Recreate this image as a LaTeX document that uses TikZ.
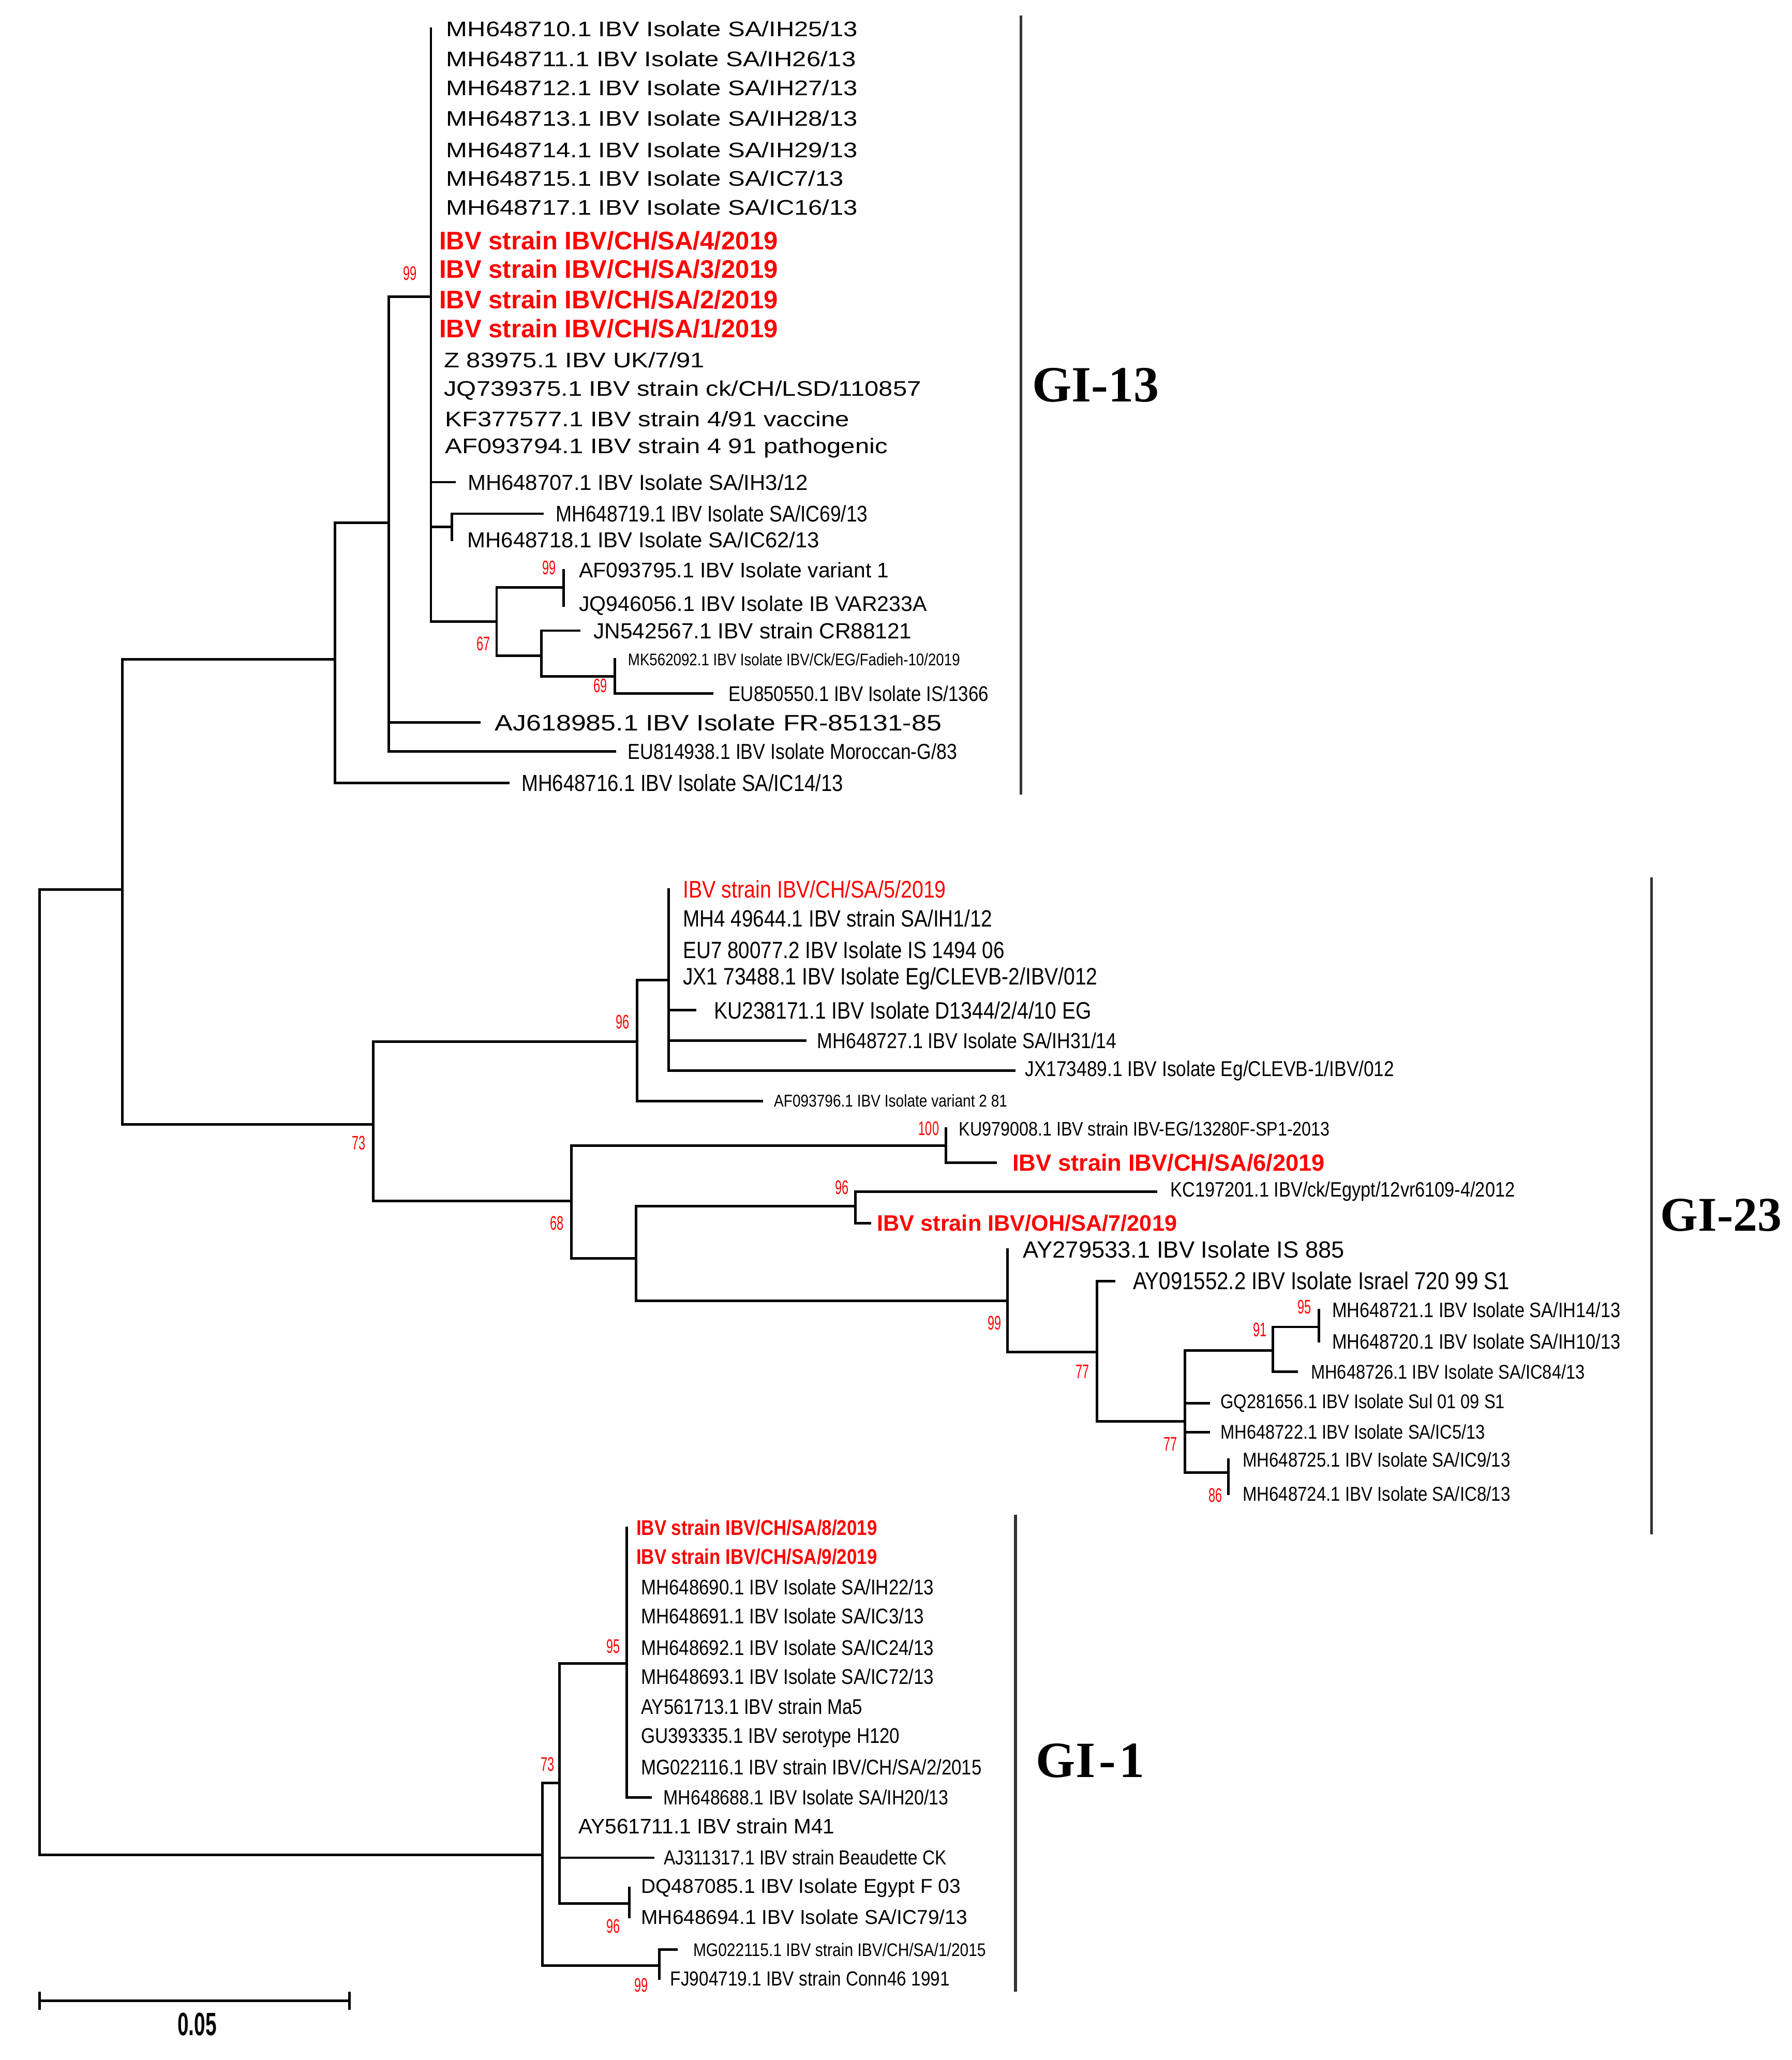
\documentclass[tikz,border=0pt]{standalone}
\usepackage{fontspec}
\setmainfont{Liberation Sans}
\newfontfamily\widefont[FakeStretch=1.2]{Liberation Sans}
\newfontfamily\narrowfont[FakeStretch=0.85]{Liberation Sans}
\newfontfamily\bootfont[FakeStretch=0.62]{Liberation Sans}
\newfontfamily\cladefont{Liberation Serif}
\usetikzlibrary{positioning}
\definecolor{ibvred}{RGB}{255,0,0}

\begin{document}
\begin{tikzpicture}[x=0.02cm,y=-0.02cm,node distance=5.5pt,
    br/.style={line width=1.1pt,line cap=rect},
    lab/.style={font=\fontsize{#1}{#1}\selectfont,inner sep=0pt},
    wlab/.style={font=\widefont\fontsize{#1}{#1}\selectfont,inner sep=0pt},
    nlab/.style={font=\narrowfont\fontsize{#1}{#1}\selectfont,inner sep=0pt},
    newlab/.style={font=\bfseries\fontsize{#1}{#1}\selectfont,text=ibvred,inner sep=0pt},
    newnlab/.style={font=\narrowfont\bfseries\fontsize{#1}{#1}\selectfont,text=ibvred,inner sep=0pt},
    boot/.style={font=\bootfont\fontsize{8.5}{8.5}\selectfont,text=ibvred,inner sep=0pt},
    clade/.style={font=\cladefont\bfseries\fontsize{#1}{#1}\selectfont,inner sep=0pt},
    bar/.style={line width=1.2pt,black!80}]
    \useasboundingbox (0,0) rectangle (1364,1568);

    % internal nodes
    \coordinate (r0) at (30,1045);
    \coordinate (nA) at (93,677);
    \coordinate (nB) at (255,502);
    \coordinate (nC) at (296,398);
    \coordinate (nD) at (328,226);
    \coordinate (nE) at (344,401);
    \coordinate (nF) at (378,473);
    \coordinate (nF1) at (429,447);
    \coordinate (nF2) at (412,499);
    \coordinate (nF3) at (468,515);
    \coordinate (nG) at (284,856);
    \coordinate (nH) at (485,793);
    \coordinate (nI) at (509,746);
    \coordinate (nK) at (435,914);
    \coordinate (nL) at (720,872);
    \coordinate (nM) at (484,958);
    \coordinate (nN) at (651,918);
    \coordinate (nO) at (767,990);
    \coordinate (nP) at (835,1029);
    \coordinate (nQ) at (902,1082);
    \coordinate (nR) at (969,1028);
    \coordinate (nS) at (1004,1010);
    \coordinate (nT) at (935,1121);
    \coordinate (nU) at (413,1412);
    \coordinate (nV) at (426,1357);
    \coordinate (nX) at (477,1266);
    \coordinate (nY) at (479,1449);
    \coordinate (nW) at (502,1496);

    % GI-13
    \foreach \i/\y in {1/22,2/45,3/67,4/90,5/114,6/136,7/158,8/183,9/205,10/228,11/250,12/274,13/297,14/319,15/341}
        \coordinate (a\i) at (328,\y);
    \coordinate (a16) at (346,367);
    \coordinate (a17) at (413,391);
    \coordinate (a18) at (344,411);
    \coordinate (a19) at (429,434);
    \coordinate (a20) at (429,461);
    \coordinate (a21) at (441,480);
    \coordinate (a22) at (468,502);
    \coordinate (a23) at (542,528);
    \coordinate (a24) at (365,550);
    \coordinate (a25) at (468,572);
    \coordinate (a26) at (387,596);

    \node[wlab=9.15,right=6.5pt of a1] (t1) {MH648710.1 IBV Isolate SA/IH25/13};
    \node[wlab=9.15,right=6.5pt of a2] (t2) {MH648711.1 IBV Isolate SA/IH26/13};
    \node[wlab=9.15,right=6.5pt of a3] (t3) {MH648712.1 IBV Isolate SA/IH27/13};
    \node[wlab=9.15,right=6.5pt of a4] (t4) {MH648713.1 IBV Isolate SA/IH28/13};
    \node[wlab=9.15,right=6.5pt of a5] (t5) {MH648714.1 IBV Isolate SA/IH29/13};
    \node[wlab=9.15,right=6.5pt of a6] (t6) {MH648715.1 IBV Isolate SA/IC7/13};
    \node[wlab=9.15,right=6.5pt of a7] (t7) {MH648717.1 IBV Isolate SA/IC16/13};
    \node[newlab=11,right=3.4pt of a8] (t8) {IBV strain IBV/CH/SA/4/2019};
    \node[newlab=11,right=3.4pt of a9] (t9) {IBV strain IBV/CH/SA/3/2019};
    \node[newlab=11,right=3.4pt of a10] (t10) {IBV strain IBV/CH/SA/2/2019};
    \node[newlab=11,right=3.4pt of a11] (t11) {IBV strain IBV/CH/SA/1/2019};
    \node[wlab=9.15,right=5.5pt of a12] (t12) {Z 83975.1 IBV UK/7/91};
    \node[wlab=9.15,right=5.5pt of a13] (t13) {JQ739375.1 IBV strain ck/CH/LSD/110857};
    \node[wlab=9.15,right=6pt of a14] (t14) {KF377577.1 IBV strain 4/91 vaccine};
    \node[wlab=9.15,right=6pt of a15] (t15) {AF093794.1 IBV strain 4 91 pathogenic};
    \node[lab=9.4,right=of a16] (t16) {MH648707.1 IBV Isolate SA/IH3/12};
    \node[nlab=9.8,right=of a17] (t17) {MH648719.1 IBV Isolate SA/IC69/13};
    \node[lab=9.4,right=6.5pt of a18] (t18) {MH648718.1 IBV Isolate SA/IC62/13};
    \node[lab=9.15,right=6.5pt of a19] (t19) {AF093795.1 IBV Isolate variant 1};
    \node[lab=9.2,right=6.5pt of a20] (t20) {JQ946056.1 IBV Isolate IB VAR233A};
    \node[lab=9.5,right=6pt of a21] (t21) {JN542567.1 IBV strain CR88121};
    \node[nlab=7.3,right=of a22] (t22) {MK562092.1 IBV Isolate IBV/Ck/EG/Fadieh-10/2019};
    \node[nlab=9.2,right=7pt of a23] (t23) {EU850550.1 IBV Isolate IS/1366};
    \node[wlab=9.7,right=6.5pt of a24] (t24) {AJ618985.1 IBV Isolate FR-85131-85};
    \node[nlab=9.4,right=of a25] (t25) {EU814938.1 IBV Isolate Moroccan-G/83};
    \node[nlab=10.1,right=of a26] (t26) {MH648716.1 IBV Isolate SA/IC14/13};

    % GI-23
    \foreach \i/\y in {1/677,2/699,3/723,4/745}
        \coordinate (b\i) at (509,\y);
    \coordinate (b5) at (529,769);
    \coordinate (b6) at (613,792);
    \coordinate (b7) at (772,815);
    \coordinate (b8) at (580,838);
    \coordinate (b9) at (720,859);
    \coordinate (b10) at (758,885);
    \coordinate (b11) at (880,907);
    \coordinate (b12) at (662,931);
    \coordinate (b13) at (767,951);
    \coordinate (b14) at (848,975);
    \coordinate (b15) at (1004,997);
    \coordinate (b16) at (1004,1021);
    \coordinate (b17) at (987,1044);
    \coordinate (b18) at (920,1068);
    \coordinate (b19) at (920,1090);
    \coordinate (b20) at (935,1111);
    \coordinate (b21) at (935,1137);

    \node[nlab=10.4,text=ibvred,right=6pt of b1] (u1) {IBV strain IBV/CH/SA/5/2019};
    \node[nlab=10.2,right=6pt of b2] (u2) {MH4 49644.1 IBV strain SA/IH1/12};
    \node[nlab=10.2,right=6pt of b3] (u3) {EU7 80077.2 IBV Isolate IS 1494 06};
    \node[nlab=10.3,right=6pt of b4] (u4) {JX1 73488.1 IBV Isolate Eg/CLEVB-2/IBV/012};
    \node[nlab=10.3,right=8pt of b5] (u5) {KU238171.1 IBV Isolate D1344/2/4/10 EG};
    \node[nlab=9.4,right=5pt of b6] (u6) {MH648727.1 IBV Isolate SA/IH31/14};
    \node[nlab=9.3,right=4.5pt of b7] (u7) {JX173489.1 IBV Isolate Eg/CLEVB-1/IBV/012};
    \node[nlab=7.4,right=5pt of b8] (u8) {AF093796.1 IBV Isolate variant 2 81};
    \node[nlab=8.5,right=of b9] (u9) {KU979008.1 IBV strain IBV-EG/13280F-SP1-2013};
    \node[newlab=10.15,right=7pt of b10] (u10) {IBV strain IBV/CH/SA/6/2019};
    \node[nlab=9.05,right=6pt of b11] (u11) {KC197201.1 IBV/ck/Egypt/12vr6109-4/2012};
    \node[newlab=9.7,right=3pt of b12] (u12) {IBV strain IBV/OH/SA/7/2019};
    \node[lab=10.15,right=6.5pt of b13] (u13) {AY279533.1 IBV Isolate IS 885};
    \node[nlab=10.6,right=8pt of b14] (u14) {AY091552.2 IBV Isolate Israel 720 99 S1};
    \node[nlab=9.05,right=of b15] (u15) {MH648721.1 IBV Isolate SA/IH14/13};
    \node[nlab=9.05,right=of b16] (u16) {MH648720.1 IBV Isolate SA/IH10/13};
    \node[nlab=8.6,right=6pt of b17] (u17) {MH648726.1 IBV Isolate SA/IC84/13};
    \node[nlab=8.6,right=5pt of b18] (u18) {GQ281656.1 IBV Isolate Sul 01 09 S1};
    \node[nlab=8.6,right=5pt of b19] (u19) {MH648722.1 IBV Isolate SA/IC5/13};
    \node[nlab=8.7,right=6pt of b20] (u20) {MH648725.1 IBV Isolate SA/IC9/13};
    \node[nlab=8.7,right=6pt of b21] (u21) {MH648724.1 IBV Isolate SA/IC8/13};

    % GI-1
    \foreach \i/\y in {1/1163,2/1185,3/1208,4/1230,5/1254,6/1276,7/1299,8/1323,9/1345}
        \coordinate (c\i) at (477,\y);
    \coordinate (c10) at (495,1368);
    \coordinate (c11) at (426,1390);
    \coordinate (c12) at (497,1414);
    \coordinate (c13) at (479,1437);
    \coordinate (c14) at (479,1459);
    \coordinate (c15) at (515,1484);
    \coordinate (c16) at (502,1506);

    \node[newnlab=9.2,right=4pt of c1] (v1) {IBV strain IBV/CH/SA/8/2019};
    \node[newnlab=9.2,right=4pt of c2] (v2) {IBV strain IBV/CH/SA/9/2019};
    \node[nlab=9.2,right=6pt of c3] (v3) {MH648690.1 IBV Isolate SA/IH22/13};
    \node[nlab=9.2,right=6pt of c4] (v4) {MH648691.1 IBV Isolate SA/IC3/13};
    \node[nlab=9.2,right=6pt of c5] (v5) {MH648692.1 IBV Isolate SA/IC24/13};
    \node[nlab=9.2,right=6pt of c6] (v6) {MH648693.1 IBV Isolate SA/IC72/13};
    \node[nlab=9.2,right=6pt of c7] (v7) {AY561713.1 IBV strain Ma5};
    \node[nlab=9.2,right=6pt of c8] (v8) {GU393335.1 IBV serotype H120};
    \node[nlab=9.2,right=6pt of c9] (v9) {MG022116.1 IBV strain IBV/CH/SA/2/2015};
    \node[nlab=8.95,right=of c10] (v10) {MH648688.1 IBV Isolate SA/IH20/13};
    \node[lab=9.1,right=8pt of c11] (v11) {AY561711.1 IBV strain M41};
    \node[nlab=8.8,right=4.5pt of c12] (v12) {AJ311317.1 IBV strain Beaudette CK};
    \node[lab=8.7,right=5pt of c13] (v13) {DQ487085.1 IBV Isolate Egypt F 03};
    \node[lab=8.7,right=5pt of c14] (v14) {MH648694.1 IBV Isolate SA/IC79/13};
    \node[nlab=7.9,right=7pt of c15] (v15) {MG022115.1 IBV strain IBV/CH/SA/1/2015};
    \node[nlab=8.8,right=4.5pt of c16] (v16) {FJ904719.1 IBV strain Conn46 1991};

    % branches
    \draw[br] (r0) |- (nA) (r0) |- (nU);
    \draw[br] (nA) |- (nB) (nA) |- (nG);
    \draw[br] (nB) |- (nC) (nB) |- (a26);
    \draw[br] (nC) |- (nD) (nC) |- (a24) (nC) |- (a25);
    \foreach \i in {1,...,15}
        \draw[br] (nD) |- (a\i);
    \draw[br] (nD) |- (a16) (nD) |- (nE) (nD) |- (nF);
    \draw[br] (nE) |- (a17) (nE) |- (a18);
    \draw[br] (nF) |- (nF1) (nF) |- (nF2);
    \draw[br] (nF1) |- (a19) (nF1) |- (a20);
    \draw[br] (nF2) |- (a21) (nF2) |- (nF3);
    \draw[br] (nF3) |- (a22) (nF3) |- (a23);

    \draw[br] (nG) |- (nH) (nG) |- (nK);
    \draw[br] (nH) |- (nI) (nH) |- (b8);
    \foreach \i in {1,...,7}
        \draw[br] (nI) |- (b\i);
    \draw[br] (nK) |- (nL) (nK) |- (nM);
    \draw[br] (nL) |- (b9) (nL) |- (b10);
    \draw[br] (nM) |- (nN) (nM) |- (nO);
    \draw[br] (nN) |- (b11) (nN) |- (b12);
    \draw[br] (nO) |- (b13) (nO) |- (nP);
    \draw[br] (nP) |- (b14) (nP) |- (nQ);
    \draw[br] (nQ) |- (nR) (nQ) |- (b18) (nQ) |- (b19) (nQ) |- (nT);
    \draw[br] (nR) |- (nS) (nR) |- (b17);
    \draw[br] (nS) |- (b15) (nS) |- (b16);
    \draw[br] (nT) |- (b20) (nT) |- (b21);

    \draw[br] (nU) |- (nV) (nU) |- (nW);
    \draw[br] (nV) |- (nX) (nV) |- (c11) (nV) |- (c12) (nV) |- (nY);
    \foreach \i in {1,...,10}
        \draw[br] (nX) |- (c\i);
    \draw[br] (nY) |- (c13) (nY) |- (c14);
    \draw[br] (nW) |- (c15) (nW) |- (c16);

    % bootstrap values
    \node[boot] (s1) at (312,208) {99};
    \node[boot] (s2) at (418,432) {99};
    \node[boot] (s3) at (368,490) {67};
    \node[boot] (s4) at (457,522) {69};
    \node[boot] (s5) at (273,870) {73};
    \node[boot] (s6) at (474,778) {96};
    \node[boot] (s7) at (707,859) {100};
    \node[boot] (s8) at (424,931) {68};
    \node[boot] (s9) at (641,904) {96};
    \node[boot] (s10) at (757,1007) {99};
    \node[boot] (s11) at (824,1044) {77};
    \node[boot] (s12) at (891,1099) {77};
    \node[boot] (s13) at (959,1012) {91};
    \node[boot] (s14) at (993,995) {95};
    \node[boot] (s15) at (925,1138) {86};
    \node[boot] (s16) at (417,1343) {73};
    \node[boot] (s17) at (467,1253) {95};
    \node[boot] (s18) at (467,1466) {96};
    \node[boot] (s19) at (488,1511) {99};

    % clade bars
    \coordinate (k1) at (777,12);
    \coordinate (k2) at (777,605);
    \coordinate (k3) at (1257,668);
    \coordinate (k4) at (1257,1168);
    \coordinate (k5) at (773,1153);
    \coordinate (k6) at (773,1516);
    \draw[bar] (k1) -- (k2);
    \draw[bar] (k3) -- (k4);
    \draw[bar] (k5) -- (k6);
    \node[clade=22] (g13) at (834,293) {GI-13};
    \node[clade=21] (g23) at (1310,925) {GI-23};
    \node[clade=22] (g1) at (830,1340) {GI\kern1.5pt-\kern1.5pt1};

    % scale bar
    \coordinate (sL) at (30,1523);
    \coordinate (sR) at (266,1523);
    \draw[br] (sL) -- (sR) (sL) ++(0,-6) -- ++(0,12) (sR) ++(0,-6) -- ++(0,12);
    \node[font=\bootfont\bfseries\fontsize{14}{14}\selectfont,inner sep=0pt] (sc) at (150,1541) {0.05};
\end{tikzpicture}
\end{document}
